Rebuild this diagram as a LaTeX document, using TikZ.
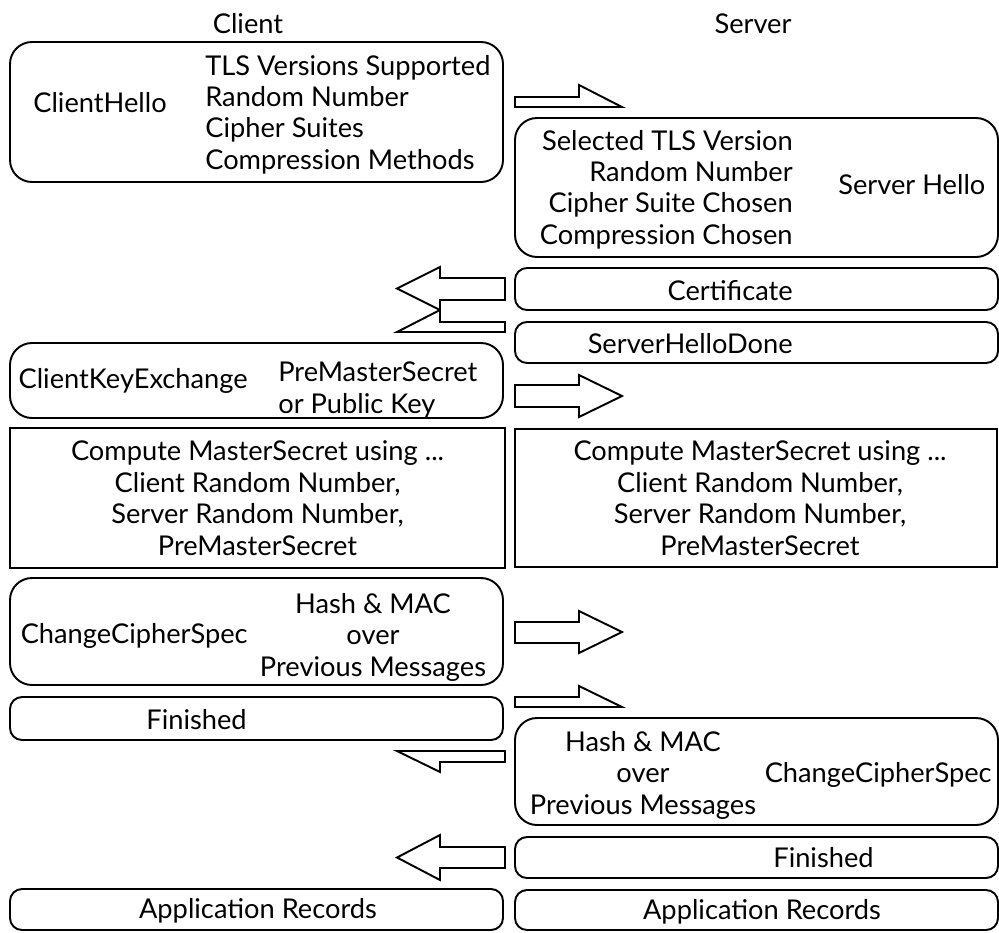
\documentclass[tikz,border=0pt]{standalone}
\usepackage{fontspec}
\setmainfont{Lato}

\begin{document}
\begin{tikzpicture}[x=0.2mm, y=-0.2mm,
    msgbox/.style={rectangle, draw, line width=1.1pt, rounded corners=4.4mm},
    shortbox/.style={msgbox, rounded corners=2.4mm},
    calcbox/.style={rectangle, draw, line width=1.1pt},
    txt/.style={inner sep=0pt, font=\fontsize{15.5}{17.9}\selectfont},
    blockarrow/.style={draw, line width=1.1pt, line join=miter}]
    \useasboundingbox (0,0) rectangle (999,932);

    \node[txt] (client) at (248,24) {Client};
    \node[txt] (server) at (753,24) {Server};

    % message boxes
    \node[msgbox, minimum width=98.6mm, minimum height=28mm] (chello) at (256.5,112) {};
    \node[msgbox, minimum width=96.6mm, minimum height=27.8mm] (shello) at (756.5,187.5) {};
    \node[shortbox, minimum width=96.6mm, minimum height=8.4mm] (cert) at (756.5,289) {};
    \node[shortbox, minimum width=96.6mm, minimum height=8.2mm] (shdone) at (756.5,342.5) {};
    \node[msgbox, minimum width=98.6mm, minimum height=15mm] (ckex) at (256.5,380.5) {};
    \node[calcbox, minimum width=99mm, minimum height=28mm] (cmaster) at (257.5,498) {};
    \node[calcbox, minimum width=96.4mm, minimum height=27.6mm] (smaster) at (756,498) {};
    \node[msgbox, minimum width=98.6mm, minimum height=21.4mm] (cccs) at (256.5,631.5) {};
    \node[shortbox, minimum width=98.6mm, minimum height=8.6mm] (cfin) at (256.5,718.5) {};
    \node[msgbox, minimum width=96.6mm, minimum height=21.4mm] (sccs) at (756.5,771.5) {};
    \node[shortbox, minimum width=96.6mm, minimum height=8.2mm] (sfin) at (756.5,857.5) {};
    \node[shortbox, minimum width=98.6mm, minimum height=8.2mm] (capp) at (256.5,909.5) {};
    \node[shortbox, minimum width=96.6mm, minimum height=8mm] (sapp) at (756.5,910) {};

    % texts
    \node[txt, anchor=west] (chello_name) at (33,103) {ClientHello};
    \node[txt, anchor=west, align=left] (chello_data) at (205,114.5) {TLS Versions Supported\\Random Number\\Cipher Suites\\Compression Methods};
    \node[txt, anchor=east, align=right] (shello_data) at (793,189.5) {Selected TLS Version\\Random Number\\Cipher Suite Chosen\\Compression Chosen};
    \node[txt, anchor=west] (shello_name) at (838,185) {Server Hello};
    \node[txt, anchor=east] (cert_name) at (793,291) {Certificate};
    \node[txt, anchor=east] (shdone_name) at (793,344) {ServerHelloDone};
    \node[txt, anchor=east] (ckex_name) at (248,381) {ClientKeyExchange};
    \node[txt, anchor=west, align=left] (ckex_data) at (278,390) {PreMasterSecret\\or Public Key};
    \node[txt, align=center] (cmaster_data) at (257.5,498) {Compute MasterSecret using ...\\Client Random Number,\\Server Random Number,\\PreMasterSecret};
    \node[txt, align=center] (smaster_data) at (760,498) {Compute MasterSecret using ...\\Client Random Number,\\Server Random Number,\\PreMasterSecret};
    \node[txt, anchor=east] (cccs_name) at (248,636) {ChangeCipherSpec};
    \node[txt, align=center] (cccs_data) at (373,637) {Hash \& MAC\\over\\Previous Messages};
    \node[txt, anchor=east] (cfin_name) at (247,720) {Finished};
    \node[txt, align=center] (sccs_data) at (643,775) {Hash \& MAC\\over\\Previous Messages};
    \node[txt, anchor=east] (sccs_name) at (992,775) {ChangeCipherSpec};
    \node[txt, anchor=west] (sfin_name) at (773,858) {Finished};
    \node[txt] (capp_name) at (258,911) {Application Records};
    \node[txt] (sapp_name) at (762,912) {Application Records};

    % block arrows between the two sides
    \draw[blockarrow] (515,107) -- (515,97) -- (579,97) -- (579,85) -- (622,107) -- cycle;
    \draw[blockarrow] (505,278) -- (440,278) -- (440,267) -- (397,288.5) -- (440,310) -- (440,300) -- (505,300) -- cycle;
    \draw[blockarrow] (505,332) -- (505,322) -- (440,322) -- (440,310) -- (397,332) -- cycle;
    \draw[blockarrow] (515,385) -- (579,385) -- (579,375) -- (622,396) -- (579,417) -- (579,407) -- (515,407) -- cycle;
    \draw[blockarrow] (515,622) -- (579,622) -- (579,611) -- (622,632) -- (579,653) -- (579,643) -- (515,643) -- cycle;
    \draw[blockarrow] (515,707) -- (515,697) -- (579,697) -- (579,686) -- (622,707) -- cycle;
    \draw[blockarrow] (505,751) -- (505,762) -- (440,762) -- (440,772) -- (397,751) -- cycle;
    \draw[blockarrow] (505,847) -- (440,847) -- (440,835) -- (397,857.5) -- (440,880) -- (440,868) -- (505,868) -- cycle;

\end{tikzpicture}
\end{document}
